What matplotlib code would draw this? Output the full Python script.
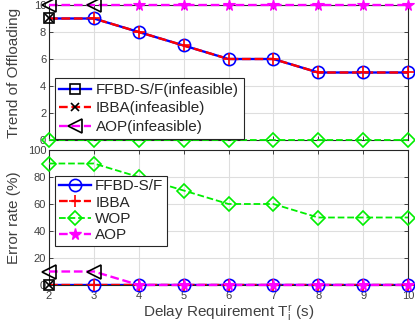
import matplotlib
matplotlib.use("Agg")
import matplotlib.pyplot as plt
from matplotlib.lines import Line2D

plt.rcParams['font.family'] = ['Liberation Sans', 'DejaVu Sans']
plt.rcParams['mathtext.fontset'] = 'custom'
plt.rcParams['mathtext.rm'] = 'Liberation Sans'
plt.rcParams['mathtext.it'] = 'Liberation Sans'

x = [2, 3, 4, 5, 6, 7, 8, 9, 10]

# Top panel: trend of offloading
trend_ffbd = [9, 9, 8, 7, 6, 6, 5, 5, 5]
trend_ibba = [9, 9, 8, 7, 6, 6, 5, 5, 5]
trend_wop = [0, 0, 0, 0, 0, 0, 0, 0, 0]
trend_aop = [10, 10, 10, 10, 10, 10, 10, 10, 10]
infeasible_ffbd_x = [2]
infeasible_ibba_x = [2]
infeasible_aop_x = [2, 3]

# Bottom panel: error rate (%)
err_ffbd = [0, 0, 0, 0, 0, 0, 0, 0, 0]
err_ibba = [0, 0, 0, 0, 0, 0, 0, 0, 0]
err_wop = [90, 90, 80, 70, 60, 60, 50, 50, 50]
err_aop = [10, 10, 0, 0, 0, 0, 0, 0, 0]

xticks = [2, 3, 4, 5, 6, 7, 8, 9, 10]

W, H = 415, 328
fig = plt.figure(figsize=(W/100, H/100), dpi=100)
left = 49/W
width = (408-49)/W
ax1 = fig.add_axes([left, 1-140/H, width, (140-5)/H])
ax2 = fig.add_axes([left, 1-285/H, width, (285-150)/H])

axc = '#262626'
tc = '#404040'
ms = 8
lw = 1.3

def style(ax):
    ax.set_xlim(2, 10)
    ax.set_xticks(xticks)
    ax.grid(True, color='#dedede', linewidth=0.8)
    ax.set_axisbelow(True)
    ax.tick_params(direction='in', top=True, right=True, labelsize=8,
                   colors=axc, labelcolor=tc, length=3, width=0.6, pad=2)
    ax.tick_params(axis='x', pad=4)
    for s in ax.spines.values():
        s.set_color(axc)
        s.set_linewidth(0.8)
    ax.yaxis.set_label_coords(-0.078, 0.5)

def pick(xs, ys, sel):
    return [xs[i] for i in range(len(xs)) if xs[i] in sel], [ys[i] for i in range(len(xs)) if xs[i] in sel]

def feas(xs, ys, sel):
    return [xs[i] for i in range(len(xs)) if xs[i] not in sel], [ys[i] for i in range(len(xs)) if xs[i] not in sel]

def draw(ax, ffbd, ibba, wop, aop):
    ax.plot(x, wop, '--', color='#00ee00', lw=lw, marker='D', ms=ms*0.9,
            mfc='none', mec='#00ee00', mew=1.2, clip_on=False, zorder=3)
    ax.plot(x, ffbd, '-', color='#0000ff', lw=lw*1.3, zorder=3)
    ax.plot(x, ibba, '--', color='#ff0000', lw=lw*1.3, zorder=4)
    ax.plot(x, aop, '--', color='#ff00ff', lw=lw*1.3, zorder=4, clip_on=False)
    fx, fy = feas(x, ffbd, infeasible_ffbd_x)
    ax.plot(fx, fy, 'o', ms=ms*1.1, mfc='none', mec='#0000ff', mew=1.2, zorder=5, clip_on=False)
    fx, fy = feas(x, ibba, infeasible_ibba_x)
    ax.plot(fx, fy, '+', ms=ms*1.05, mec='#ff0000', mew=1.2, zorder=6, clip_on=False)
    fx, fy = feas(x, aop, infeasible_aop_x)
    ax.plot(fx, fy, '*', ms=ms*1.05, mfc='#ff00ff', mec='#ff00ff', mew=0.8, zorder=6, clip_on=False)
    ix, iy = pick(x, ffbd, infeasible_ffbd_x)
    ax.plot(ix, iy, 's', ms=ms*0.85, mfc='none', mec='black', mew=1.2, zorder=7, clip_on=False)
    ix, iy = pick(x, ibba, infeasible_ibba_x)
    ax.plot(ix, iy, 'x', ms=ms*0.75, mec='black', mew=1.2, zorder=8, clip_on=False)
    ix, iy = pick(x, aop, infeasible_aop_x)
    ax.plot(ix, iy, '<', ms=ms*1.3, mfc='none', mec='black', mew=1.2, zorder=8, clip_on=False)

# ---- top panel
draw(ax1, trend_ffbd, trend_ibba, trend_wop, trend_aop)
style(ax1)
ax1.set_ylim(0, 10)
ax1.set_yticks([0, 2, 4, 6, 8, 10])
ax1.tick_params(labelbottom=False)
ax1.set_ylabel('Trend of Offloading', fontsize=11, color=tc)

h1 = [Line2D([], [], color='#0000ff', lw=lw*1.3, marker='s', ms=ms*0.9, mfc='none', mec='black', mew=1.2),
      Line2D([], [], color='#ff0000', ls='--', lw=lw*1.3, marker='x', ms=ms*0.8, mec='black', mew=1.2),
      Line2D([], [], color='#ff00ff', ls='--', lw=lw*1.3, marker='<', ms=ms*1.2, mfc='none', mec='black', mew=1.2)]
leg1 = ax1.legend(h1, ['FFBD-S/F(infeasible)', 'IBBA(infeasible)', 'AOP(infeasible)'],
                  loc='lower left', bbox_to_anchor=(0.016, 0.01), fontsize=11, fancybox=False,
                  framealpha=1, edgecolor=axc, handlelength=2.1, handletextpad=0.3,
                  borderpad=0.3, labelspacing=0.3, borderaxespad=0)
leg1.get_frame().set_linewidth(0.8)
leg1.set_zorder(10)
for t in leg1.get_texts():
    t.set_color(axc)

# ---- bottom panel
draw(ax2, err_ffbd, err_ibba, err_wop, err_aop)
style(ax2)
ax2.set_ylim(0, 100)
ax2.set_yticks([0, 20, 40, 60, 80, 100])
ax2.set_ylabel('Error rate (%)', fontsize=11, color=tc)
ax2.set_xlabel('Delay Requirement T$_i^r$ (s)', fontsize=11, color=tc, labelpad=2)

h2 = [Line2D([], [], color='#0000ff', lw=lw*1.3, marker='o', ms=ms*1.1, mfc='none', mec='#0000ff', mew=1.2),
      Line2D([], [], color='#ff0000', ls='--', lw=lw*1.3, marker='+', ms=ms*1.05, mec='#ff0000', mew=1.2),
      Line2D([], [], color='#00ee00', ls='--', lw=lw, marker='D', ms=ms*0.9, mfc='none', mec='#00ee00', mew=1.2),
      Line2D([], [], color='#ff00ff', ls='--', lw=lw*1.3, marker='*', ms=ms*1.05, mfc='#ff00ff', mec='#ff00ff')]
leg2 = ax2.legend(h2, ['FFBD-S/F', 'IBBA', 'WOP', 'AOP'],
                  loc='upper left', bbox_to_anchor=(0.016, 0.81), fontsize=11, fancybox=False,
                  framealpha=1, edgecolor=axc, handlelength=2.1, handletextpad=0.3,
                  borderpad=0.25, labelspacing=0.15, borderaxespad=0)
leg2.get_frame().set_linewidth(0.8)
leg2.set_zorder(10)
for t in leg2.get_texts():
    t.set_color(axc)

fig.savefig('out.png', dpi=100)
